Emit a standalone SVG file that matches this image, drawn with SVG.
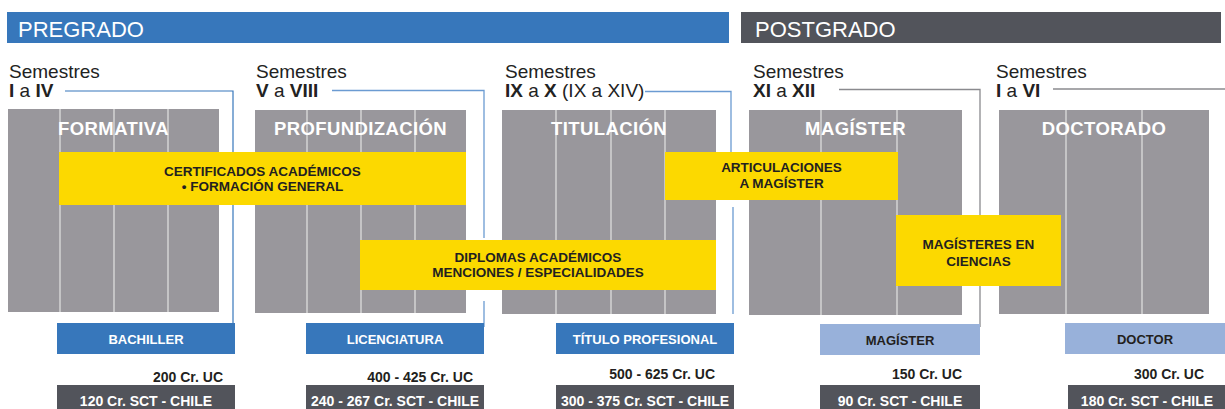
<svg xmlns="http://www.w3.org/2000/svg" width="1225" height="409" viewBox="0 0 1225 409">
<style>
.hdr{font-family:"Liberation Sans",Arial,sans-serif;font-size:22px;fill:#fff}
.sem{font-family:"Liberation Sans",Arial,sans-serif;font-size:19px;fill:#222}
.b{font-weight:bold}
.blk{fill:#99979c}
.div{stroke:#dcdcdc;stroke-width:1.3}
.ttl{font-family:"Liberation Sans",Arial,sans-serif;font-size:18.5px;font-weight:bold;fill:#fff;text-anchor:middle;letter-spacing:0.4px}
.yel{fill:#fcd900}
.yt{font-family:"Liberation Sans",Arial,sans-serif;font-size:13.5px;font-weight:bold;fill:#231f20;text-anchor:middle}
.bl{fill:#3777bb}
.lb{fill:#98b1da}
.dk{fill:#52545b}
.bt{font-family:"Liberation Sans",Arial,sans-serif;font-size:13px;font-weight:bold;text-anchor:middle}
.dt{font-family:"Liberation Sans",Arial,sans-serif;font-size:14px;font-weight:bold;text-anchor:middle;fill:#fff}
.cr{font-family:"Liberation Sans",Arial,sans-serif;font-size:14px;font-weight:bold;fill:#231f20;text-anchor:end}
.conB{fill:none;stroke:#3777bb;stroke-width:1.2}
.conL{fill:none;stroke:#6b9bd2;stroke-width:1.3}
.conG{fill:none;stroke:#8a8a8e;stroke-width:1.3}
</style>

<g id="headers">
<rect x="7" y="12" width="722" height="31" class="bl"/>
<text x="18" y="37" class="hdr">PREGRADO</text>
<rect x="741" y="12" width="480" height="31" class="dk"/>
<text x="755" y="37" class="hdr">POSTGRADO</text>
</g>

<g id="connectors">
<path class="conB" d="M65 91H233V323"/>
<path class="conL" d="M332 90.5H484V238M484 301V327"/>
<path class="conL" d="M645 91.5H731V152M733 207V314"/>
<path class="conG" d="M839 89.5H980V327"/>
<path class="conG" d="M1053 89H1225"/>
</g>

<g id="sem1"><text x="9" y="78" class="sem">Semestres</text><text x="9" y="97" class="sem"><tspan class="b">I</tspan> a <tspan class="b">IV</tspan></text></g>
<g id="sem2"><text x="256" y="78" class="sem">Semestres</text><text x="256" y="97" class="sem"><tspan class="b">V</tspan> a <tspan class="b">VIII</tspan></text></g>
<g id="sem3"><text x="505" y="78" class="sem">Semestres</text><text x="505" y="97" class="sem"><tspan class="b">IX</tspan> a <tspan class="b">X</tspan> (IX a XIV)</text></g>
<g id="sem4"><text x="753" y="78" class="sem">Semestres</text><text x="753" y="97" class="sem"><tspan class="b">XI</tspan> a <tspan class="b">XII</tspan></text></g>
<g id="sem5"><text x="996" y="78" class="sem">Semestres</text><text x="996" y="97" class="sem"><tspan class="b">I</tspan> a <tspan class="b">VI</tspan></text></g>

<g id="formativa">
<rect x="8" y="109" width="211" height="203" class="blk"/>
<path class="div" d="M60 109V312M114 109V312M168 109V312"/>
<text x="113.5" y="135" class="ttl">FORMATIVA</text>
</g>
<g id="profundizacion">
<rect x="255" y="110" width="211" height="203" class="blk"/>
<path class="div" d="M307 110V313M361 110V313M415 110V313"/>
<text x="360.5" y="135" class="ttl">PROFUNDIZACIÓN</text>
</g>
<g id="titulacion">
<rect x="502" y="110" width="214" height="204" class="blk"/>
<path class="div" d="M556 110V314M611 110V314M665 110V314"/>
<text x="609" y="135" class="ttl">TITULACIÓN</text>
</g>
<g id="magister">
<rect x="749" y="110" width="213" height="205" class="blk"/>
<path class="div" d="M821 110V315M897 110V315"/>
<text x="855.5" y="135" class="ttl">MAGÍSTER</text>
</g>
<g id="doctorado">
<rect x="999" y="110" width="210" height="204" class="blk"/>
<path class="div" d="M1066 110V314M1142 110V314"/>
<text x="1104" y="135" class="ttl">DOCTORADO</text>
</g>

<g id="certificados">
<rect x="59" y="152" width="407" height="53" class="yel"/>
<text x="262.5" y="176" class="yt">CERTIFICADOS ACADÉMICOS</text>
<text x="262.5" y="191" class="yt">• FORMACIÓN GENERAL</text>
</g>
<g id="diplomas">
<rect x="360" y="240" width="356" height="50" class="yel"/>
<text x="538" y="262" class="yt">DIPLOMAS ACADÉMICOS</text>
<text x="538" y="277" class="yt">MENCIONES / ESPECIALIDADES</text>
</g>
<g id="articulaciones">
<rect x="665" y="152" width="233" height="48" class="yel"/>
<text x="781.5" y="172" class="yt">ARTICULACIONES</text>
<text x="781.5" y="188" class="yt">A MAGÍSTER</text>
</g>
<g id="magisteres-ciencias">
<rect x="896" y="215" width="165" height="71" class="yel"/>
<text x="978.5" y="249" class="yt">MAGÍSTERES EN</text>
<text x="978.5" y="266" class="yt">CIENCIAS</text>
</g>

<g id="bachiller">
<rect x="57" y="323" width="178" height="31" class="bl"/>
<text x="146" y="344" class="bt" fill="#fff">BACHILLER</text>
<text x="223" y="382" class="cr">200 Cr. UC</text>
<rect x="57" y="385" width="178" height="24" class="dk"/>
<text x="146" y="406" class="dt">120 Cr. SCT - CHILE</text>
</g>
<g id="licenciatura">
<rect x="306" y="323" width="178" height="31" class="bl"/>
<text x="395" y="344" class="bt" fill="#fff">LICENCIATURA</text>
<text x="473" y="382" class="cr">400 - 425 Cr. UC</text>
<rect x="306" y="385" width="178" height="24" class="dk"/>
<text x="395" y="406" class="dt">240 - 267 Cr. SCT - CHILE</text>
</g>
<g id="titulo">
<rect x="556" y="323" width="178" height="31" class="bl"/>
<text x="645" y="344" class="bt" fill="#fff">TÍTULO PROFESIONAL</text>
<text x="715" y="379" class="cr">500 - 625 Cr. UC</text>
<rect x="556" y="385" width="178" height="24" class="dk"/>
<text x="645" y="406" class="dt">300 - 375 Cr. SCT - CHILE</text>
</g>
<g id="magister-grado">
<rect x="820" y="324" width="160" height="31" class="lb"/>
<text x="900" y="345" class="bt" fill="#231f20">MAGÍSTER</text>
<text x="962" y="379" class="cr">150 Cr. UC</text>
<rect x="820" y="385" width="160" height="24" class="dk"/>
<text x="900" y="406" class="dt">90 Cr. SCT - CHILE</text>
</g>
<g id="doctor">
<rect x="1065" y="323" width="160" height="31" class="lb"/>
<text x="1145" y="344" class="bt" fill="#231f20">DOCTOR</text>
<text x="1204" y="379" class="cr">300 Cr. UC</text>
<rect x="1068" y="385" width="157" height="24" class="dk"/>
<text x="1147" y="406" class="dt">180 Cr. SCT - CHILE</text>
</g>
</svg>
